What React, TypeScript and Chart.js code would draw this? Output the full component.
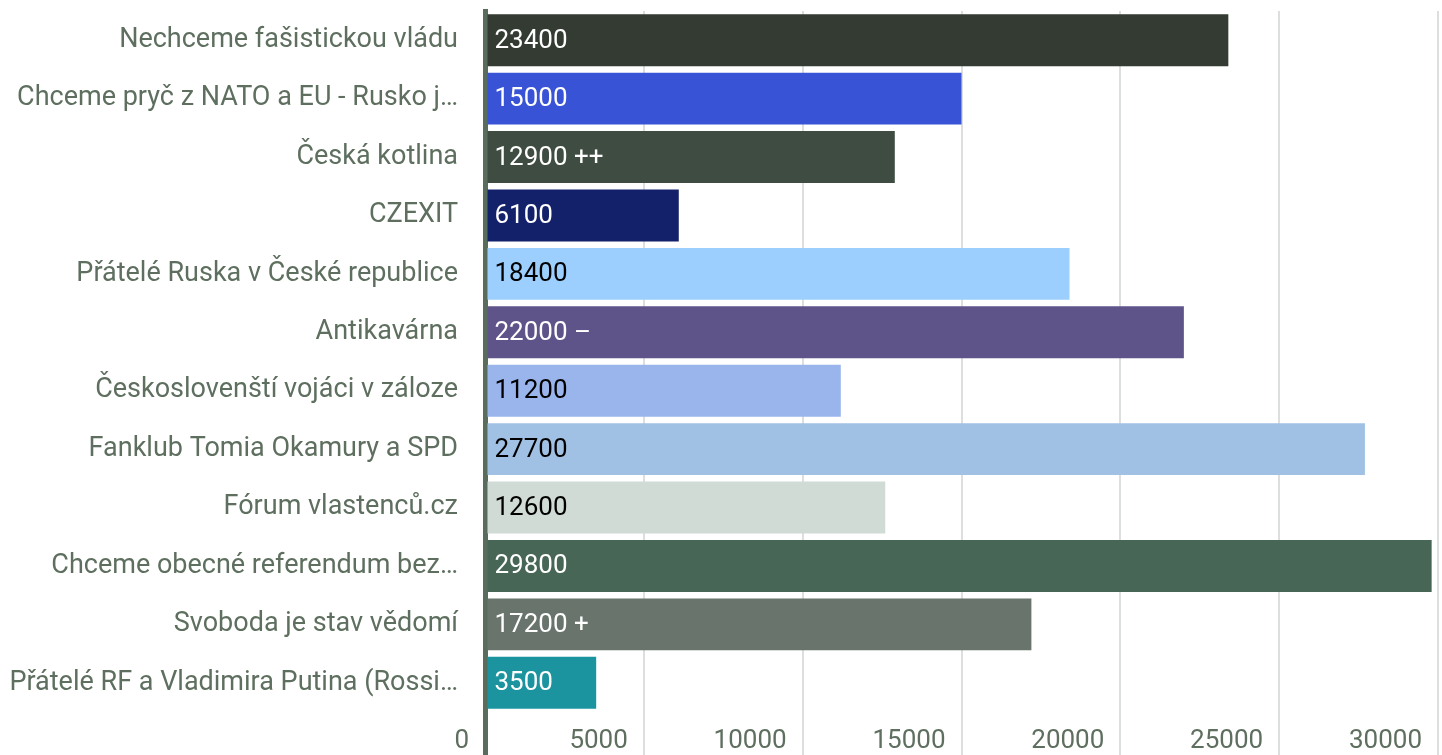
import React, { useEffect, useRef } from 'react';
import { Chart, registerables } from 'chart.js';

Chart.register(...registerables);

const categories = [
  'Nechceme fašistickou vládu',
  'Chceme pryč z NATO a EU - Rusko j…',
  'Česká kotlina',
  'CZEXIT',
  'Přátelé Ruska v České republice',
  'Antikavárna',
  'Českoslovenští vojáci v záloze',
  'Fanklub Tomia Okamury a SPD',
  'Fórum vlastenců.cz',
  'Chceme obecné referendum bez…',
  'Svoboda je stav vědomí',
  'Přátelé RF a Vladimira Putina (Rossi…',
];

const values = [23400, 15000, 12900, 6100, 18400, 22000, 11200, 27700, 12600, 29800, 17200, 3500];

const valueSuffixes = ['', '', ' ++', '', '', ' –', '', '', '', '', ' +', ''];

const barColors = [
  '#333b32',
  '#3853d6',
  '#3e4c41',
  '#13216b',
  '#9dcffe',
  '#5f5489',
  '#99b5ec',
  '#a1c1e4',
  '#d0dbd5',
  '#476656',
  '#68746c',
  '#1b94a0',
];

const valueLabelColors = [
  '#ffffff', '#ffffff', '#ffffff', '#ffffff', '#000000', '#ffffff',
  '#000000', '#000000', '#000000', '#ffffff', '#ffffff', '#ffffff',
];

const xTickValues = [0, 5000, 10000, 15000, 20000, 25000, 30000];

const FONT_FAMILY = 'Roboto';
const TEXT_COLOR = '#5e6f5f';
const AXIS_COLOR = '#5a6d5c';
const GRID_COLOR = '#dcdfdd';

const valueLabelPlugin = {
  id: 'valueLabels',
  afterDatasetsDraw(chart: any) {
    const meta = chart.getDatasetMeta(0);
    const ctx = chart.ctx;
    ctx.save();
    ctx.font = `26px ${FONT_FAMILY}`;
    ctx.textBaseline = 'middle';
    ctx.textAlign = 'left';
    meta.data.forEach((bar: any, i: number) => {
      const { y, base } = bar.getProps(['y', 'base'], true);
      ctx.fillStyle = valueLabelColors[i];
      ctx.fillText(String(values[i]) + valueSuffixes[i], base + 7, y + 1);
    });
    ctx.restore();
  },
};

export default function App() {
  const canvasRef = useRef<HTMLCanvasElement | null>(null);

  useEffect(() => {
    if (!canvasRef.current) return;
    const chart = new Chart(canvasRef.current, {
      type: 'bar',
      data: {
        labels: categories,
        datasets: [
          {
            data: values,
            backgroundColor: barColors,
            borderWidth: 0,
            barPercentage: 0.89,
            categoryPercentage: 1,
          },
        ],
      },
      plugins: [valueLabelPlugin],
      options: {
        indexAxis: 'y',
        animation: false,
        responsive: true,
        maintainAspectRatio: false,
        layout: { padding: { top: 11, right: 4, bottom: 0, left: 0 } },
        plugins: {
          legend: { display: false },
          tooltip: { enabled: false },
        },
        scales: {
          x: {
            type: 'linear',
            min: 0,
            max: 30000,
            afterBuildTicks: (scale: any) => {
              scale.ticks = xTickValues.map((v) => ({ value: v }));
            },
            afterFit: (scale: any) => {
              scale.height = 43;
              scale.paddingLeft = 0;
              scale.paddingRight = 0;
            },
            border: { display: false },
            grid: {
              display: true,
              drawOnChartArea: true,
              drawTicks: true,
              tickLength: 43,
              color: (c: any) => (c.tick && c.tick.value === 0 ? AXIS_COLOR : GRID_COLOR),
              tickColor: (c: any) => (c.tick && c.tick.value === 0 ? AXIS_COLOR : GRID_COLOR),
              lineWidth: (c: any) => (c.tick && c.tick.value === 0 ? 5 : 2),
            },
            ticks: {
              align: 'end',
              labelOffset: -16,
              padding: -29,
              maxRotation: 0,
              autoSkip: false,
              color: TEXT_COLOR,
              font: { family: FONT_FAMILY, size: 26 },
              callback: (v: any) => String(v),
            },
          },
          y: {
            type: 'category',
            z: 1,
            afterFit: (scale: any) => {
              scale.width = 485;
              scale.paddingTop = 0;
              scale.paddingBottom = 0;
            },
            border: { display: true, color: AXIS_COLOR, width: 5 },
            grid: { display: false, drawTicks: false },
            ticks: {
              autoSkip: false,
              padding: 27,
              color: TEXT_COLOR,
              font: { family: FONT_FAMILY, size: 27 },
            },
          },
        },
      },
    });
    return () => chart.destroy();
  }, []);

  return (
    <div style={{ position: 'fixed', left: 0, top: 0, width: '1442px', height: '755px', background: '#ffffff' }}>
      <canvas ref={canvasRef} />
    </div>
  );
}
